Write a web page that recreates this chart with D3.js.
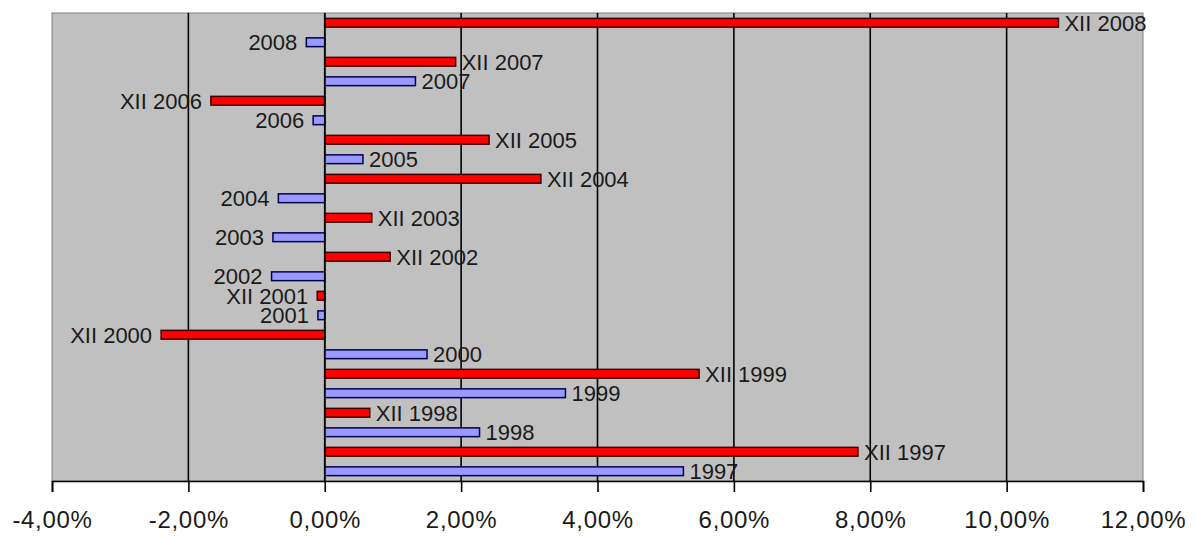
<!DOCTYPE html>
<html>
<head>
<meta charset="utf-8">
<script src="https://cdn.jsdelivr.net/npm/d3@7"></script>
<style>
  html, body { margin: 0; padding: 0; background: #ffffff; }
  svg { display: block; }
  text { font-family: "Liberation Sans", Arial, sans-serif; fill: #1a1a1a; }
</style>
</head>
<body>
<svg id="chart" width="1196" height="536"></svg>
<script>
// Years covered, oldest first
const years = [1997, 1998, 1999, 2000, 2001, 2002, 2003, 2004, 2005, 2006, 2007, 2008];
// Annual average change (%), blue bars
const annualValues = [5.26, 2.27, 3.53, 1.50, -0.10, -0.78, -0.76, -0.68, 0.56, -0.17, 1.33, -0.27];
// December-on-December change (%), red bars
const decemberValues = [7.82, 0.66, 5.49, -2.40, -0.11, 0.96, 0.69, 3.17, 2.41, -1.67, 1.92, 10.76];
// Axis ticks (%)
const tickValues = [-4, -2, 0, 2, 4, 6, 8, 10, 12];

// Build rows top-to-bottom: newest year first, December bar above the annual bar
const rows = [];
for (let i = years.length - 1; i >= 0; i--) {
  rows.push({ key: "XII " + years[i], label: "XII " + years[i], value: decemberValues[i], kind: "dec" });
  rows.push({ key: String(years[i]), label: String(years[i]), value: annualValues[i], kind: "ann" });
}

const plot = { left: 52, top: 13, right: 1143, bottom: 481 };

const svg = d3.select("#chart");

const x = d3.scaleLinear()
  .domain([-4, 12])
  .range([plot.left, plot.right]);

const y = d3.scaleBand()
  .domain(rows.map(d => d.key))
  .range([plot.top, plot.bottom])
  .paddingInner(0.55)
  .paddingOuter(0.275);

// Plot area background
svg.append("rect")
  .attr("x", plot.left)
  .attr("y", plot.top)
  .attr("width", plot.right - plot.left)
  .attr("height", plot.bottom - plot.top)
  .attr("fill", "#c0c0c0")
  .attr("stroke", "#808080")
  .attr("stroke-width", 1);

// Vertical gridlines
svg.append("g")
  .selectAll("line")
  .data(tickValues.filter(v => v > -4 && v < 12))
  .join("line")
  .attr("x1", d => x(d))
  .attr("x2", d => x(d))
  .attr("y1", plot.top)
  .attr("y2", plot.bottom)
  .attr("stroke", "#000")
  .attr("stroke-width", 1.6);

// Bars
const colors = {
  dec: { fill: "#ff0000", stroke: "#3a0000" },
  ann: { fill: "#9999ff", stroke: "#000050" }
};

svg.append("g")
  .selectAll("rect")
  .data(rows)
  .join("rect")
  .attr("x", d => Math.min(x(0), x(d.value)))
  .attr("y", d => y(d.key))
  .attr("width", d => Math.abs(x(d.value) - x(0)))
  .attr("height", y.bandwidth())
  .attr("fill", d => colors[d.kind].fill)
  .attr("stroke", d => colors[d.kind].stroke)
  .attr("stroke-width", 1.5);

// Zero axis line
svg.append("line")
  .attr("x1", x(0)).attr("x2", x(0))
  .attr("y1", plot.top).attr("y2", plot.bottom)
  .attr("stroke", "#000")
  .attr("stroke-width", 1.6);

// Data labels beside the bar ends
svg.append("g")
  .selectAll("text")
  .data(rows)
  .join("text")
  .attr("x", d => d.value >= 0 ? x(d.value) + 6 : x(d.value) - 9)
  .attr("y", d => y(d.key) + y.bandwidth() / 2)
  .attr("dy", "0.36em")
  .attr("text-anchor", d => d.value >= 0 ? "start" : "end")
  .style("font-size", "22px")
  .text(d => d.label);

// Bottom axis: comma decimal separator, plain hyphen for negatives
const fmt = v => (v < 0 ? "-" : "") + Math.abs(v).toFixed(2).replace(".", ",") + "%";
const axis = d3.axisBottom(x)
  .tickValues(tickValues)
  .tickSize(11)
  .tickPadding(19)
  .tickFormat(fmt);

const gAxis = svg.append("g")
  .attr("transform", `translate(0,${plot.bottom})`)
  .call(axis);

gAxis.select(".domain").attr("stroke", "#000").attr("stroke-width", 1.6);
gAxis.selectAll(".tick line").attr("stroke", "#000").attr("stroke-width", 1.6);
gAxis.selectAll(".tick text")
  .style("font-family", "'Liberation Sans', Arial, sans-serif")
  .style("font-size", "24px")
  .style("letter-spacing", "0.7px")
  .attr("fill", "#1a1a1a");
</script>
</body>
</html>
